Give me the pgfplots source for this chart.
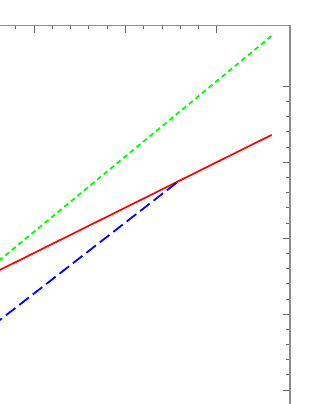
\documentclass[border=0pt]{standalone}
\usepackage{pgfplots}
\pgfplotsset{compat=1.18}
\begin{document}
\begin{tikzpicture}
\useasboundingbox (0pt,0pt) rectangle (315pt,404pt);
\clip (0pt,0pt) rectangle (315pt,404pt);
\begin{axis}[
  scale only axis,
  width=439pt, height=440.5pt,
  anchor=north east, at={(290pt,378.5pt)},
  xmin=1, xmax=5.8, ymin=0, ymax=5.8,
  xtick={1,2,3,4,5}, ytick={0,1,2,3,4,5},
  minor tick num=4,
  tick align=inside,
  major tick length=7.5pt, minor tick length=4pt,
  xticklabels={}, yticklabels={},
  axis line style={draw=gray!90, line width=1.4pt},
  every tick/.style={draw=gray!80!black, line width=0.8pt},
  clip=true,
]
\addplot[red, line width=1.7pt] coordinates {(2.4,2.445) (5.6,4.360)};
\addplot[blue, line width=1.8pt, dash pattern=on 12pt off 5pt] coordinates {(2.4,1.709) (4.6,3.767)};
\addplot[green, line width=1.8pt, dash pattern=on 5pt off 3.5pt] coordinates {(2.4,2.487) (5.6,5.664)};
\end{axis}
\end{tikzpicture}
\end{document}
